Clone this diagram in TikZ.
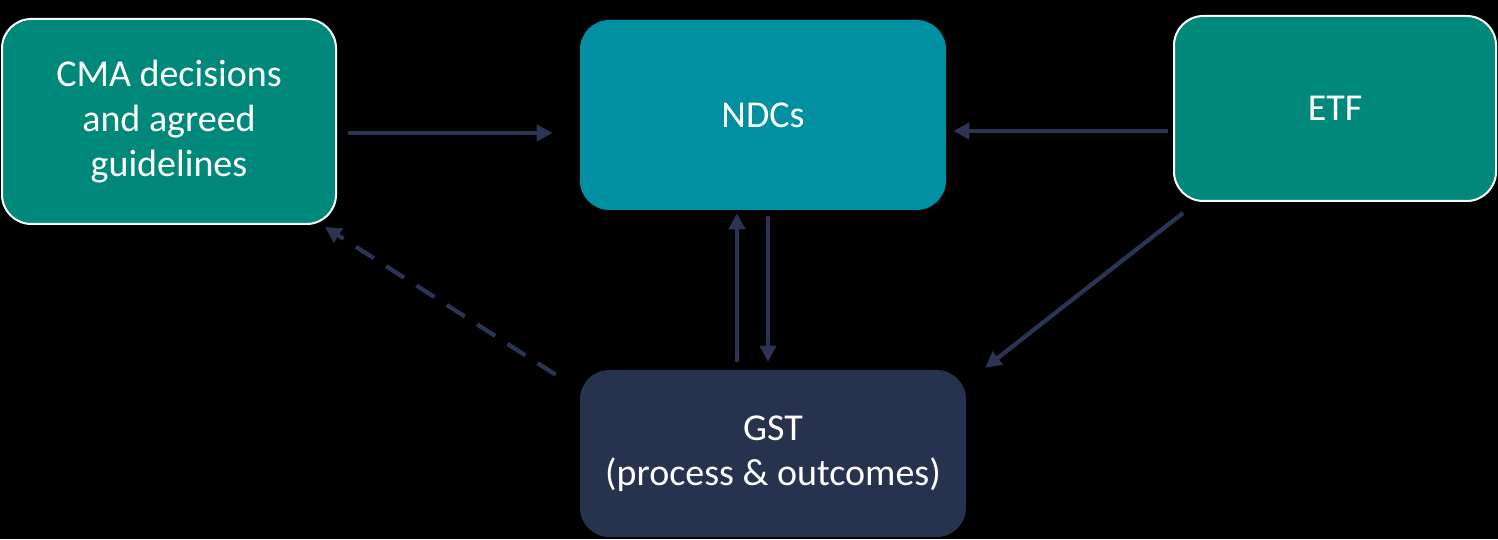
\documentclass[tikz,border=0pt]{standalone}
\usepackage{fontspec}
\setmainfont{Carlito}
\usepackage{tikz}
\usetikzlibrary{arrows.meta,positioning}
\definecolor{tealbox}{HTML}{00897B}
\definecolor{ndcblue}{HTML}{0090A1}
\definecolor{navy}{HTML}{27324F}
\definecolor{arrowcol}{HTML}{2B3553}

\begin{document}
\begin{tikzpicture}[x=0.75pt, y=0.75pt,
    box/.style={rectangle, rounded corners=22pt, text=white, align=center, font=\fontsize{28.5}{33.75}\selectfont},
    framed/.style={box, draw=white, line width=1.5pt},
    arrow/.style={-{Triangle[length=12pt,width=12pt]}, draw=arrowcol, line width=3.2pt},
    dasharrow/.style={arrow, dash pattern=on 16pt off 11pt}
]

% Background
\fill[black] (0,0) rectangle (1498,539);

% Inputs
\node[framed, fill=tealbox, minimum width=250.5pt, minimum height=153.75pt] (cma) at (169,417.5) {CMA decisions\\and agreed\\guidelines};
\node[framed, fill=tealbox, minimum width=241.5pt, minimum height=138.75pt] (etf) at (1335,430.5) {ETF};

% NDCs
\node[box, fill=ndcblue, minimum width=274.5pt, minimum height=142.5pt] (ndcs) at (763,424) {NDCs};

% Global stocktake
\node[box, fill=navy, minimum width=289.5pt, minimum height=125.25pt] (gst) at (773,85.5) {GST\\(process \& outcomes)};

% Connections
\draw[arrow] ([shift={(11,-11.5)}]cma.east) -- ([shift={(-27,-18)}]ndcs.west);
\draw[arrow] ([shift={(-5,-22.5)}]etf.west) -- ([shift={(7,-16)}]ndcs.east);
\draw[arrow] ([shift={(-36,8)}]gst.north) -- ([shift={(-26,-3)}]ndcs.south);
\draw[arrow] ([shift={(5,-6)}]ndcs.south) -- ([shift={(-5,8)}]gst.north);
\draw[dasharrow] ([shift={(-24,-5)}]gst.north west) -- ([shift={(-12,-2)}]cma.south east);
\draw[arrow] ([shift={(10,-11)}]etf.south west) -- ([shift={(19,2)}]gst.north east);

\end{tikzpicture}
\end{document}
